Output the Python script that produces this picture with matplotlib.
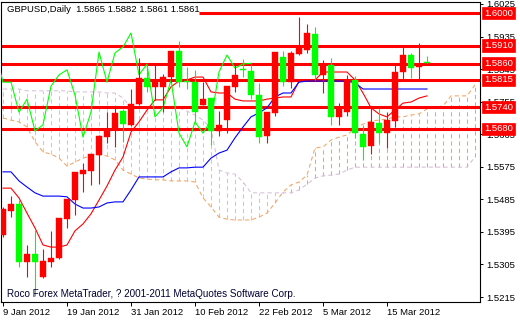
import matplotlib
matplotlib.use("Agg")
import matplotlib.pyplot as plt
import numpy as np
import pandas as pd
from matplotlib.transforms import blended_transform_factory

# ---------------- data ----------------
opens = [1.5386, 1.5453, 1.5472, 1.5312, 1.5334, 1.5270, 1.5312, 1.5323, 1.5430, 1.5483,
         1.5555, 1.5563, 1.5608, 1.5657, 1.5677, 1.5729, 1.5691, 1.5749, 1.5820, 1.5796,
         1.5796, 1.5823, 1.5895, 1.5812, 1.5809, 1.5746, 1.5765, 1.5674, 1.5704, 1.5796,
         1.5845, 1.5840, 1.5773, 1.5660, 1.5724, 1.5879, 1.5809, 1.5887, 1.5898, 1.5942,
         1.5829, 1.5856, 1.5713, 1.5726, 1.5815, 1.5666, 1.5633, 1.5696, 1.5668, 1.5702,
         1.5837, 1.5884, 1.5851, 1.5865]
highs = [1.5464, 1.5494, 1.5483, 1.5359, 1.5400, 1.5348, 1.5397, 1.5433, 1.5486, 1.5561,
         1.5586, 1.5610, 1.5663, 1.5726, 1.5738, 1.5732, 1.5790, 1.5876, 1.5854, 1.5856,
         1.5832, 1.5895, 1.5923, 1.5850, 1.5843, 1.5809, 1.5765, 1.5729, 1.5798, 1.5856,
         1.5873, 1.5859, 1.5807, 1.5726, 1.5892, 1.5895, 1.5895, 1.5989, 1.5970, 1.5961,
         1.5870, 1.5876, 1.5751, 1.5829, 1.5826, 1.5691, 1.5740, 1.5738, 1.5726, 1.5856,
         1.5906, 1.5890, 1.5917, 1.5882]
lows = [1.5381, 1.5436, 1.5298, 1.5270, 1.5218, 1.5268, 1.5298, 1.5320, 1.5406, 1.5442,
        1.5505, 1.5525, 1.5527, 1.5641, 1.5630, 1.5644, 1.5688, 1.5746, 1.5782, 1.5760,
        1.5726, 1.5809, 1.5796, 1.5790, 1.5699, 1.5746, 1.5635, 1.5660, 1.5668, 1.5782,
        1.5823, 1.5762, 1.5641, 1.5641, 1.5715, 1.5798, 1.5793, 1.5885, 1.5890, 1.5815,
        1.5779, 1.5691, 1.5691, 1.5715, 1.5655, 1.5594, 1.5610, 1.5641, 1.5627, 1.5685,
        1.5812, 1.5820, 1.5812, 1.5861]
closes = [1.5458, 1.5472, 1.5312, 1.5334, 1.5312, 1.5315, 1.5323, 1.5433, 1.5486, 1.5561,
          1.5566, 1.5610, 1.5660, 1.5680, 1.5724, 1.5693, 1.5749, 1.5820, 1.5796, 1.5809,
          1.5823, 1.5895, 1.5809, 1.5809, 1.5726, 1.5762, 1.5674, 1.5691, 1.5798, 1.5829,
          1.5843, 1.5773, 1.5657, 1.5726, 1.5892, 1.5809, 1.5890, 1.5906, 1.5945, 1.5829,
          1.5859, 1.5713, 1.5738, 1.5815, 1.5668, 1.5630, 1.5699, 1.5668, 1.5704, 1.5837,
          1.5884, 1.5848, 1.5859, 1.5861]

tenkan = [1.5516, 1.5516, 1.5489, 1.5447, 1.5406, 1.5359, 1.5353, 1.5353, 1.5359, 1.5398,
          1.5417, 1.5445, 1.5483, 1.5522, 1.5566, 1.5602, 1.5671, 1.5699, 1.5732, 1.5760,
          1.5760, 1.5796, 1.5812, 1.5815, 1.5823, 1.5823, 1.5782, 1.5779, 1.5779, 1.5762,
          1.5757, 1.5757, 1.5757, 1.5762, 1.5765, 1.5768, 1.5768, 1.5812, 1.5815, 1.5815,
          1.5837, 1.5837, 1.5837, 1.5837, 1.5815, 1.5779, 1.5738, 1.5721, 1.5713, 1.5732,
          1.5751, 1.5754, 1.5765, 1.5771]
kijun = [1.5561, 1.5561, 1.5536, 1.5519, 1.5503, 1.5494, 1.5494, 1.5494, 1.5492, 1.5472,
         1.5461, 1.5461, 1.5464, 1.5475, 1.5478, 1.5478, 1.5511, 1.5547, 1.5547, 1.5547,
         1.5547, 1.5561, 1.5572, 1.5572, 1.5574, 1.5574, 1.5599, 1.5613, 1.5621, 1.5655,
         1.5685, 1.5713, 1.5724, 1.5738, 1.5768, 1.5779, 1.5779, 1.5809, 1.5812, 1.5812,
         1.5812, 1.5812, 1.5812, 1.5812, 1.5807, 1.5790, 1.5790, 1.5790, 1.5790, 1.5790,
         1.5790, 1.5790, 1.5790, 1.5790]
span_a = [1.5710, 1.5704, 1.5699, 1.5685, 1.5644, 1.5616, 1.5610, 1.5599, 1.5577, 1.5588,
          1.5599, 1.5605, 1.5608, 1.5605, 1.5594, 1.5566, 1.5555, 1.5544, 1.5541, 1.5539,
          1.5539, 1.5536, 1.5536, 1.5536, 1.5533, 1.5489, 1.5464, 1.5436, 1.5430, 1.5428,
          1.5428, 1.5428, 1.5436, 1.5447, 1.5475, 1.5505, 1.5525, 1.5533, 1.5552, 1.5627,
          1.5630, 1.5649, 1.5657, 1.5663, 1.5682, 1.5693, 1.5702, 1.5704, 1.5707, 1.5713,
          1.5713, 1.5718, 1.5721, 1.5735, 1.5740, 1.5743, 1.5771, 1.5771, 1.5771, 1.5801]
span_b = [1.5790, 1.5790, 1.5790, 1.5785, 1.5785, 1.5785, 1.5785, 1.5785, 1.5785, 1.5782,
          1.5782, 1.5782, 1.5782, 1.5779, 1.5779, 1.5765, 1.5740, 1.5740, 1.5740, 1.5740,
          1.5740, 1.5740, 1.5738, 1.5729, 1.5718, 1.5704, 1.5682, 1.5566, 1.5558, 1.5555,
          1.5533, 1.5503, 1.5503, 1.5503, 1.5503, 1.5503, 1.5503, 1.5511, 1.5527, 1.5544,
          1.5550, 1.5552, 1.5555, 1.5566, 1.5574, 1.5574, 1.5574, 1.5574, 1.5574, 1.5574,
          1.5574, 1.5574, 1.5574, 1.5574, 1.5574, 1.5574, 1.5574, 1.5574, 1.5574, 1.5602]
chikou_shift = 22

levels = [1.6000, 1.5910, 1.5860, 1.5815, 1.5740, 1.5680]
level_start_bar = [24.5, None, None, None, None, None]

y_ticks = [1.5215, 1.5305, 1.5395, 1.5485, 1.5575, 1.5665, 1.5755, 1.5845, 1.5935, 1.6025]
dates = pd.bdate_range("2012-01-09", periods=len(closes))
date_tick_every = 8

title = "GBPUSD,Daily  1.5865 1.5882 1.5861 1.5861"
footer = "Roco Forex MetaTrader, ? 2001-2011 MetaQuotes Software Corp."

# ---------------- plot ----------------
FONT = "Liberation Sans"
FS = 6.8
plt.rcParams["font.family"] = [FONT, "DejaVu Sans"]

W, H = 520, 320
fig = plt.figure(figsize=(W / 100, H / 100), dpi=100)
fig.patch.set_facecolor("white")
ax = fig.add_axes([1 / W, 18 / H, 479 / W, 300 / H])
ax.set_facecolor("white")
ax.set_xlim(-0.25, 59.625)
ax.set_ylim(1.52013, 1.60305)

RED = "#ff0000"
LIME = "#00ff00"
SANDY = "#f4a460"
THISTLE = "#d8bfd8"
DOT = (0, (4, 3))

# cloud
xc = np.arange(len(span_a))
sa = np.array(span_a)
sb = np.array(span_b)
for i in range(len(xc)):
    col = SANDY if sa[i] > sb[i] else THISTLE
    ax.vlines(xc[i], min(sa[i], sb[i]), max(sa[i], sb[i]), colors=col,
              linewidth=0.75, linestyles=DOT, zorder=1)
ax.plot(xc, sb, color=THISTLE, lw=0.75, ls=DOT, zorder=1.2)
ax.plot(xc, sa, color=SANDY, lw=0.75, ls=DOT, zorder=1.3)

# levels
for lv, st in zip(levels, level_start_bar):
    x0 = st if st is not None else -1
    ax.hlines(lv, x0, 61, colors=RED, linewidth=2.2, zorder=2)

# indicator lines
xb = np.arange(len(closes))
ax.plot(xb, tenkan, color=RED, lw=0.8, zorder=3)
ax.plot(xb, kijun, color="#0000ff", lw=0.8, zorder=3)
ax.plot(xb - chikou_shift, closes, color=LIME, lw=0.8, zorder=3)

# candles
BODY_W = 0.68
for i in range(len(closes)):
    o, h, l, c = opens[i], highs[i], lows[i], closes[i]
    col = RED if c >= o else LIME
    ax.vlines(i, l, h, colors=col, linewidth=0.8, zorder=4)
    bot = min(o, c)
    hgt = max(abs(c - o), 0.00028)
    ax.bar(i, hgt, bottom=bot, width=BODY_W, color=col, edgecolor=col,
           linewidth=0.3, zorder=4.5)

# axes styling
for s in ax.spines.values():
    s.set_color("black")
    s.set_linewidth(0.8)

ax.yaxis.tick_right()
ax.set_yticks(y_ticks)
ax.set_yticklabels([f"{v:.4f}" for v in y_ticks])
ax.tick_params(axis="y", direction="out", length=2.2, width=0.7, pad=2,
               labelsize=FS, colors="black")

pos = list(range(0, len(closes), date_tick_every))
ax.set_xticks(pos)
ax.set_xticklabels([f"{dates[p].day} {dates[p].strftime('%b %Y')}" for p in pos],
                   ha="left")
ax.tick_params(axis="x", direction="out", length=3, width=0.7, pad=1.5,
               labelsize=FS, colors="black")

# price label boxes
tr = blended_transform_factory(ax.transAxes, ax.transData)
for lv in levels:
    ax.text(1 + 4 / 479, lv, f"{lv:.4f}", transform=tr, ha="left", va="center",
            color="white", fontsize=FS, clip_on=False, zorder=10,
            bbox=dict(boxstyle="square,pad=0.18", fc=RED, ec=RED, lw=0.5))

fig.text(7 / W, 1 - 9 / H, title, ha="left", va="center", fontsize=FS, color="black")
fig.text(7 / W, 1 - 294 / H, footer, ha="left", va="center", fontsize=7.1, color="#000033")

fig.savefig("out.png", dpi=100, facecolor="white")
